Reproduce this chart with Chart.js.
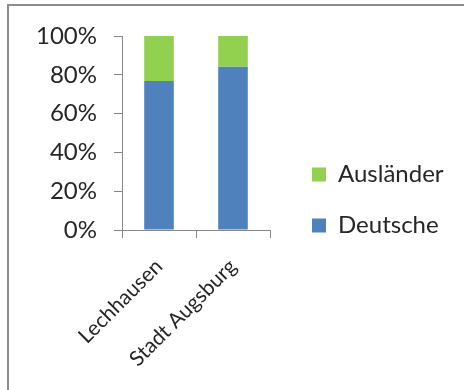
<!DOCTYPE html>
<html><head><meta charset="utf-8">
<script src="https://cdn.jsdelivr.net/npm/chart.js@4/dist/chart.umd.min.js"></script>
<style>
html,body{margin:0;padding:0;background:#fff;overflow:hidden}
#wrap{position:relative;width:464px;height:390px;overflow:hidden}
#frame{position:absolute;left:7px;top:4px;width:600px;height:600px;border:2px solid #8c8c8c;box-sizing:border-box}
canvas{position:absolute;left:0;top:0}
</style></head><body>
<div id="wrap"><div id="frame"></div><canvas id="c" width="464" height="390"></canvas></div>
<script>
const categories = ['Lechhausen', 'Stadt Augsburg'];
const deutsche = [76.8, 84.2];
const auslaender = [23.2, 15.8];
const yTickValues = [0, 20, 40, 60, 80, 100];

const textColor = '#262626';
const axisColor = '#868686';

const legendPlace = {
  id: 'legendPlace',
  afterInit(chart) {
    const lg = chart.legend;
    const f = lg.fit;
    lg.fit = function () { f.call(this); this.width = 464 - 270; };
  },
  afterLayout(chart) {
    const lg = chart.legend;
    lg.left += 15; lg.right += 15; lg.top -= 13; lg.bottom -= 13;
  }
};

new Chart(document.getElementById('c'), {
  type: 'bar',
  data: {
    labels: categories,
    datasets: [
      { label: 'Deutsche', data: deutsche, backgroundColor: '#4F81BD' },
      { label: 'Ausländer', data: auslaender, backgroundColor: '#92D050' }
    ]
  },
  options: {
    responsive: false,
    animation: false,
    events: [],
    layout: { padding: { top: 36, left: 0, right: 0, bottom: 0 } },
    datasets: { bar: { categoryPercentage: 1, barPercentage: 0.4 } },
    plugins: {
      tooltip: { enabled: false },
      legend: {
        position: 'right',
        reverse: true,
        labels: {
          boxWidth: 14, boxHeight: 14, padding: 27,
          color: textColor,
          font: { family: 'Lato', size: 24 }
        }
      }
    },
    scales: {
      x: {
        stacked: true,
        grid: { display: true, drawOnChartArea: false, tickLength: 8, color: axisColor, offset: true },
        border: { color: axisColor, width: 1 },
        ticks: { color: textColor, font: { family: 'Lato', size: 21 }, minRotation: 45, maxRotation: 45, padding: 16 },
        afterFit(s) { s.height = 160; }
      },
      y: {
        stacked: true,
        min: 0, max: 100,
        afterBuildTicks(s) { s.ticks = yTickValues.map(v => ({ value: v })); },
        grid: { display: true, drawOnChartArea: false, tickLength: 8, color: axisColor },
        border: { color: axisColor, width: 1 },
        ticks: { color: textColor, font: { family: 'Lato', size: 24 }, padding: 17, callback: v => v + '%' },
        afterFit(s) { s.width = 122; }
      }
    }
  },
  plugins: [legendPlace]
});
</script>
</body></html>
